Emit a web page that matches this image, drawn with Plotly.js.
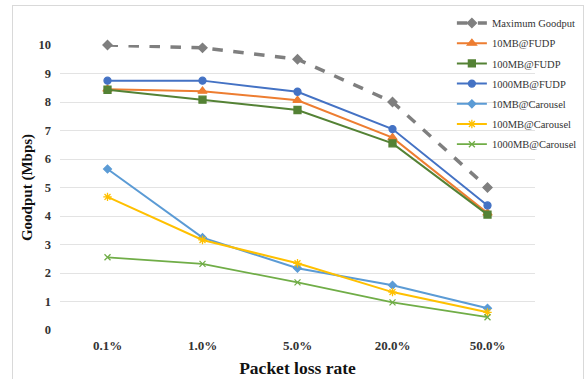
<!DOCTYPE html>
<html><head><meta charset="utf-8">
<script src="https://cdn.plot.ly/plotly-3.0.1.min.js"></script>
<style>
html,body{margin:0;padding:0;background:#fff;}
#wrap{position:relative;width:588px;height:379px;}
#frame{position:absolute;left:12px;top:5px;width:572px;height:380px;border:1px solid #d9d9d9;box-sizing:border-box;pointer-events:none;}
#chart{position:absolute;left:0;top:0;width:588px;height:379px;}
</style></head>
<body><div id="wrap"><div id="chart"></div><div id="frame"></div></div>
<script>
const categories = ['0.1%','1.0%','5.0%','20.0%','50.0%'];
const maxGoodput = [10, 9.9, 9.5, 8.0, 5.0];
const fudp10MB = [8.45, 8.38, 8.06, 6.75, 4.1];
const fudp100MB = [8.43, 8.08, 7.72, 6.55, 4.05];
const fudp1000MB = [8.75, 8.75, 8.36, 7.05, 4.37];
const carousel10MB = [5.65, 3.24, 2.17, 1.57, 0.76];
const carousel100MB = [4.67, 3.16, 2.34, 1.33, 0.62];
const carousel1000MB = [2.55, 2.32, 1.67, 0.97, 0.45];
const seriesNames = ['Maximum Goodput','10MB@FUDP','100MB@FUDP','1000MB@FUDP','10MB@Carousel','100MB@Carousel','1000MB@Carousel'];

const series = [maxGoodput, fudp10MB, fudp100MB, fudp1000MB, carousel10MB, carousel100MB, carousel1000MB];
const styles = [
  {color:'#7f7f7f', width:3.5, dash:'dash', symbol:'diamond', size:7},
  {color:'#ed7d31', width:2, dash:'solid', symbol:'triangle-up', size:8},
  {color:'#548235', width:2, dash:'solid', symbol:'square', size:7},
  {color:'#4472c4', width:2, dash:'solid', symbol:'circle', size:7},
  {color:'#5b9bd5', width:2, dash:'solid', symbol:'diamond', size:6},
  {color:'#ffc000', width:2, dash:'solid', symbol:'asterisk-open', size:7},
  {color:'#70ad47', width:1.8, dash:'solid', symbol:'x-thin-open', size:6}
];
const traces = series.map((y,i)=>({
  type:'scatter', mode:'lines+markers', x:categories, y:y, name:seriesNames[i],
  legendgroup:'g'+i, cliponaxis:false,
  line:{color:styles[i].color, width:styles[i].width, dash:styles[i].dash},
  marker:{symbol:styles[i].symbol, size:styles[i].size, color:styles[i].color, line:{color:styles[i].color, width:1.3}}
}));
const font = '"Liberation Serif", "Times New Roman", serif';
const layout = {
  width:588, height:379,
  margin:{l:60, r:53, t:45, b:49, autoexpand:false},
  paper_bgcolor:'#fff', plot_bgcolor:'#fff',
  showlegend:true,
  legend:{x:0.825, y:1.128, xanchor:'left', yanchor:'top', bgcolor:'rgba(0,0,0,0)',
    font:{family:font, size:10.5, color:'#333'}, traceorder:'grouped', tracegroupgap:1.2, itemwidth:30},
  xaxis:{type:'category', range:[-0.5,4.5], showgrid:false, zeroline:false, showline:false, ticks:'', automargin:true,
    tickfont:{family:font, size:13, color:'#333', weight:'bold'}, ticklabelstandoff:6,
    title:{text:'<b>Packet loss rate</b>', font:{family:font, size:17.5, color:'#111'}, standoff:9}},
  yaxis:{range:[0,10], dtick:1, showgrid:true, gridcolor:'#e3e3e3', gridwidth:1, zeroline:false, showline:false, ticks:'', automargin:true,
    tickfont:{family:font, size:12.5, color:'#333', weight:'bold'}, ticklabelstandoff:8,
    title:{text:'<b>Goodput (Mbps)</b>', font:{family:font, size:15, color:'#111'}, standoff:2}},
  font:{family:font}
};
Plotly.newPlot('chart', traces, layout, {displayModeBar:false, staticPlot:true});
</script></body></html>
